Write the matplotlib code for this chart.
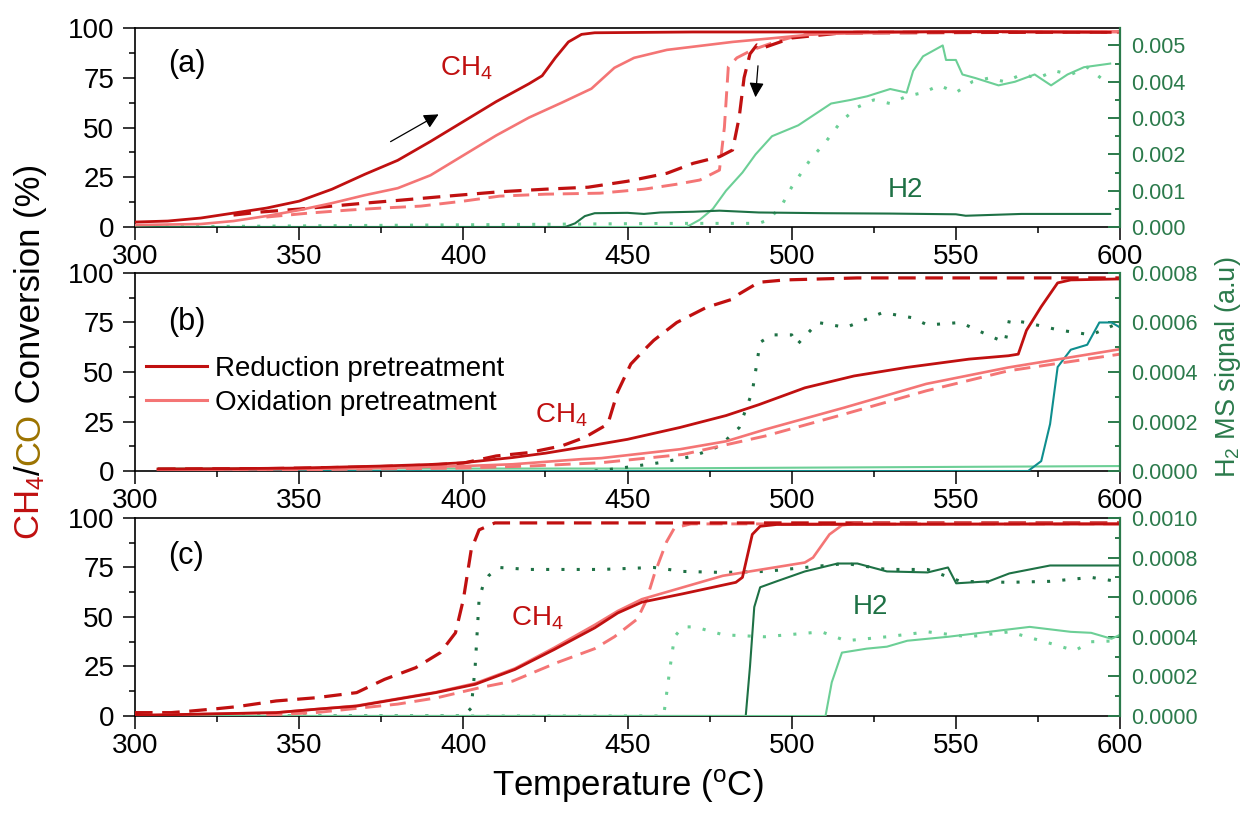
import matplotlib
matplotlib.use('Agg')
import matplotlib.pyplot as plt
from matplotlib.lines import Line2D
from matplotlib.ticker import MultipleLocator, FormatStrFormatter

plt.rcParams['font.family'] = ['Liberation Sans', 'DejaVu Sans']
plt.rcParams['mathtext.default'] = 'regular'

RED = '#c01010'
PINK = '#f47575'
DKGREEN = '#1e7145'
LTGREEN = '#6ccf96'
TEAL = '#0e8e8e'
AXGREEN = '#2b7a4b'
OLIVE = '#9c7300'

# ---- panel (a) ----
a_red_heat_T = [300, 310, 320, 330, 340, 350, 360, 370, 380, 390, 400, 410, 420, 424, 428, 432, 436, 440, 470, 520, 560, 597]
a_red_heat_V = [2.5, 3, 4.5, 7, 9.5, 13, 19, 26.5, 33.5, 43, 53, 63, 72, 76, 85, 93, 96.8, 97.6, 98, 98, 98.2, 97.8]
a_ox_heat_T = [300, 320, 330, 340, 350, 360, 370, 380, 390, 400, 410, 420, 430, 439, 442, 446, 452, 462, 482, 508, 540, 600]
a_ox_heat_V = [1, 1.5, 3, 5.5, 8.5, 12, 16, 19.5, 26, 36, 46, 55, 62.5, 69.5, 74, 80, 85, 89, 93, 97, 98, 98.3]
a_red_cool_T = [330, 338, 350, 360, 370, 381, 395, 411, 425, 438, 450, 462, 470, 478, 482, 484, 485.5, 487.3, 489.4, 491.3, 500, 515, 600]
a_red_cool_V = [6, 7.5, 9, 10.5, 12, 13.5, 15.5, 17.7, 19, 20, 23, 27, 32, 35.3, 38.7, 55, 75, 87, 91.5, 90, 95, 97.5, 98]
a_ox_cool_T = [340, 353, 365, 375, 387, 400, 411, 425, 441.6, 455, 465, 472, 478, 479.5, 480.7, 483.3, 488, 495, 502.6, 520, 600]
a_ox_cool_V = [5, 7, 8.5, 9.5, 10.5, 13, 15.5, 16.5, 17, 19, 21.5, 23.6, 28.6, 50, 80.5, 85, 89, 93, 96.5, 98, 98]
a_h2_red_T = [300, 431, 434, 437, 440, 450, 455, 460, 470, 478, 490, 510, 530, 550, 553, 570, 597]
a_h2_red_V = [0, 0, 0.0001, 0.0003, 0.00038, 0.00039, 0.00036, 0.0004, 0.00042, 0.00045, 0.0004, 0.00038, 0.00037, 0.00035, 0.00031, 0.00036, 0.00036]
a_h2_ox_T = [300, 468, 472, 476, 480, 485, 489, 494, 502, 507, 512, 518, 523, 530, 535, 537, 540, 546, 547, 550, 552, 556,
             563, 568, 574, 579, 584, 589, 597]
a_h2_ox_V = [0, 0, 0.0002, 0.0005, 0.001, 0.0015, 0.002, 0.0025, 0.0028, 0.0031, 0.0034, 0.0035, 0.0036, 0.0038, 0.0037,
             0.0043, 0.0047, 0.005, 0.0046, 0.0046, 0.0042, 0.0041, 0.0039, 0.004, 0.0042, 0.0039, 0.0042, 0.0044, 0.0045]
a_h2_cool_T = [300, 465, 490, 493, 497, 500, 503, 506, 510, 515, 520, 525, 530, 535, 540, 545, 550, 555, 560, 565, 570,
               575, 580, 585, 590, 597]
a_h2_cool_V = [0, 0.0001, 0.0001, 0.0002, 0.0006, 0.0011, 0.0015, 0.0019, 0.0023, 0.0029, 0.0033, 0.0035, 0.0034, 0.0036,
               0.0037, 0.0039, 0.0037, 0.004, 0.0041, 0.004, 0.0042, 0.0041, 0.0043, 0.0042, 0.0044, 0.0039]

# ---- panel (b) ----
b_red_heat_T = [307, 330, 350, 375, 390, 400, 415, 425, 436, 450, 466, 480, 490, 504, 519, 535, 554, 566, 569, 571.5, 576,
                581, 585, 600]
b_red_heat_V = [1, 1.2, 1.5, 2.5, 3.3, 4.2, 6.8, 9, 12, 16, 22, 28, 33.5, 42, 48, 52.3, 56.5, 58.2, 59, 71, 83, 95, 96.5, 97]
b_ox_heat_T = [307, 350, 375, 400, 415, 436, 442, 466, 480, 492, 516, 541, 566, 600]
b_ox_heat_V = [0.5, 1, 1.5, 2.5, 3.4, 6, 6.5, 11, 15, 21, 32, 44, 52.3, 61.5]
b_red_cool_T = [307, 340, 370, 390, 400, 410, 420, 430, 437, 444, 447, 451, 456, 458, 465, 474, 482, 484, 490, 498, 520, 560, 600]
b_red_cool_V = [1, 1.2, 2, 3, 4, 7.6, 9.3, 12.7, 17, 23.7, 40, 54, 62.7, 66, 75, 82.6, 86.8, 89.4, 95.3, 96.5, 97.5, 97.5, 97.5]
b_ox_cool_T = [307, 350, 400, 420, 442, 467, 492, 516, 541, 566, 600]
b_ox_cool_V = [0.3, 0.6, 1.5, 2.5, 4.2, 8.4, 17.7, 28.7, 40.5, 50.6, 59]
b_h2_red_T = [307, 572, 576, 578.7, 581, 585, 590, 593.7, 597.4, 600]
b_h2_red_V = [0, 0, 0.00004, 0.00019, 0.00042, 0.00049, 0.00051, 0.0006, 0.0006, 0.00058]
b_h2_ox_T = [307, 450, 600]
b_h2_ox_V = [0.00001, 0.00001, 0.00002]
b_h2_cool_T = [440, 447, 460, 470, 478, 484, 488, 490.4, 494, 500, 501.6, 508, 516.5, 527.7, 536.4, 541.4, 551.4, 561.3,
               565, 566.3, 571.3, 581.2, 591.2, 600]
b_h2_cool_V = [0, 0.00001, 0.000034, 0.00006, 0.0001, 0.000175, 0.00032, 0.00052, 0.00055, 0.00055, 0.00051, 0.0006,
               0.00058, 0.00064, 0.00062, 0.00059, 0.0006, 0.00054, 0.00052, 0.00061, 0.0006, 0.00057, 0.00055, 0.0006]

# ---- panel (c) ----
c_red_heat_T = [300, 343, 355, 367.5, 379.5, 391.6, 403.6, 415.7, 427.7, 440, 447, 454.4, 466.8, 483, 485, 488, 490.4, 495.4, 600]
c_red_heat_V = [0.3, 1.7, 3.4, 5, 8.4, 11.8, 16, 23.5, 33.6, 44.5, 52, 57.5, 61.7, 67.5, 70, 91.7, 95.8, 96.7, 97]
c_ox_heat_T = [300, 343, 355, 367.5, 379.5, 391.6, 403.6, 415.7, 427.7, 440, 447, 454.4, 479, 504, 506.5, 511.5, 515.3, 519, 600]
c_ox_heat_V = [0.3, 1.7, 3.4, 5.2, 8.6, 12, 16.5, 24, 34.5, 46, 53, 59, 70.8, 77.5, 80, 91.7, 96.3, 97, 97]
c_red_cool_T = [300, 311, 317, 325, 331, 343, 355, 367.5, 376, 385.5, 393, 397.6, 400, 402.4, 404.8, 409.6, 450, 600]
c_red_cool_V = [1.7, 1.7, 2.5, 3.7, 4.7, 7.6, 9.2, 11.8, 18.5, 24.4, 32, 42, 58.8, 84, 94, 97.5, 97.5, 97.5]
c_ox_cool_T = [340, 355, 380, 392, 405, 415, 428.6, 440, 446, 453, 455.7, 458.2, 461.9, 464.3, 469.3, 600]
c_ox_cool_V = [0.5, 1.7, 6, 9.2, 14.3, 17.6, 27, 34, 40, 49, 58.3, 71.7, 88, 95, 97, 97]
c_h2_red_heat_T = [300, 486, 487.3, 488.6, 490.4, 495.4, 504, 514, 520, 529, 541.4, 547.6, 550.1, 560, 566.3, 578.7, 591.2, 600]
c_h2_red_heat_V = [0, 0, 0.00025, 0.00055, 0.00065, 0.00068, 0.00073, 0.00077, 0.00077, 0.00073, 0.000725, 0.00075,
                   0.00067, 0.00068, 0.00072, 0.00076, 0.00076, 0.00076]
c_h2_red_cool_T = [300, 400, 402.4, 403.6, 404.8, 406, 407.8, 410.8, 420, 442, 458, 467, 479, 492, 504, 516.5, 529, 541.4,
                   551.4, 566.3, 578.7, 591.2, 599]
c_h2_red_cool_V = [0, 0, 0.00004, 0.00025, 0.00059, 0.00066, 0.00071, 0.00075, 0.00074, 0.00074, 0.00075, 0.00073,
                   0.000725, 0.00073, 0.00075, 0.00077, 0.00074, 0.00074, 0.00068, 0.000675, 0.00068, 0.0007, 0.00068]
c_h2_ox_heat_T = [300, 510.3, 512.2, 515.3, 522.8, 529, 535.2, 547.6, 560, 572.5, 585, 591.2, 597.4, 600]
c_h2_ox_heat_V = [0, 0, 0.00017, 0.00032, 0.00034, 0.00035, 0.00038, 0.0004, 0.000425, 0.00045, 0.000425, 0.00042,
                  0.00039, 0.00041]
c_h2_ox_cool_T = [300, 461, 463, 464.3, 466.8, 470.5, 479.2, 491.7, 509.1, 516.5, 529, 541.4, 553.9, 566.3, 578.7, 586.2,
                  591.2, 600]
c_h2_ox_cool_V = [0, 0, 0.00025, 0.0004, 0.00045, 0.00045, 0.00041, 0.0004, 0.000425, 0.00038, 0.0004, 0.000425, 0.0004,
                  0.000425, 0.000367, 0.00033, 0.000375, 0.00038]

x_ticks = [300, 350, 400, 450, 500, 550, 600]
y_ticks = [0, 25, 50, 75, 100]

DASH = (0, (5.5, 3))
DOT = (0, (1, 4))


def setup_panel(rect, ms_top, ms_step, ms_fmt):
    ax = fig.add_axes(rect)
    ax.set_xlim(300, 600)
    ax.set_ylim(0, 100)
    ax.set_xticks(x_ticks)
    ax.set_yticks(y_ticks)
    ax.xaxis.set_minor_locator(MultipleLocator(25))
    ax.yaxis.set_minor_locator(MultipleLocator(12.5))
    ax.tick_params(which='major', direction='out', length=9, width=1.1, labelsize=20, pad=3)
    ax.tick_params(axis='y', which='major', pad=6)
    ax.tick_params(which='minor', direction='out', length=4.5, width=1.1)
    ax.tick_params(top=False, right=False, which='both')
    for s in ax.spines.values():
        s.set_linewidth(1.2)
    ax.spines['right'].set_visible(False)

    ax2 = ax.twinx()
    ax2.set_ylim(0, ms_top)
    ax2.yaxis.set_major_locator(MultipleLocator(ms_step))
    ax2.yaxis.set_minor_locator(MultipleLocator(ms_step / 2))
    ax2.yaxis.set_major_formatter(FormatStrFormatter(ms_fmt))
    ax2.tick_params(which='major', direction='in', length=9, width=1.4, colors=AXGREEN, labelsize=15.5, pad=8)
    ax2.tick_params(which='minor', direction='in', length=3.5, width=1.4, colors=AXGREEN)
    for side in ['left', 'top', 'bottom']:
        ax2.spines[side].set_visible(False)
    ax2.spines['right'].set_color(AXGREEN)
    ax2.spines['right'].set_linewidth(1.6)
    return ax, ax2


def draw_conversion(ax, rh, oh, rc, oc):
    ax.plot(oc[0], oc[1], color=PINK, lw=2.1, ls=DASH)
    ax.plot(rc[0], rc[1], color=RED, lw=2.3, ls=DASH)
    ax.plot(oh[0], oh[1], color=PINK, lw=1.9)
    ax.plot(rh[0], rh[1], color=RED, lw=2.0)


fig = plt.figure(figsize=(12.42, 8.21), dpi=100)

# panel (a)
ax_a, ms_a = setup_panel([0.1087, 0.7235, 0.7931, 0.2424], 0.00548, 0.001, '%.3f')
ms_a.plot(a_h2_cool_T, a_h2_cool_V, color=LTGREEN, lw=2.2, ls=DOT)
ms_a.plot(a_h2_ox_T, a_h2_ox_V, color=LTGREEN, lw=1.5)
ms_a.plot(a_h2_red_T, a_h2_red_V, color=DKGREEN, lw=1.5)
draw_conversion(ms_a, (a_red_heat_T, [v * 0.00548 / 100 for v in a_red_heat_V]),
                (a_ox_heat_T, [v * 0.00548 / 100 for v in a_ox_heat_V]),
                (a_red_cool_T, [v * 0.00548 / 100 for v in a_red_cool_V]),
                (a_ox_cool_T, [v * 0.00548 / 100 for v in a_ox_cool_V]))
ax_a.text(310, 82, '(a)', fontsize=22, va='center')
ax_a.text(401, 80, 'CH$_4$', fontsize=20, color=RED, ha='center', va='center')
ax_a.text(534.5, 18.6, 'H2', fontsize=20, color=DKGREEN, ha='center', va='center')
ax_a.annotate('', xy=(393.2, 57.3), xytext=(377.1, 42.2),
              arrowprops=dict(arrowstyle='-|>', color='k', lw=0.9, mutation_scale=22))
ax_a.annotate('', xy=(488.9, 63.8), xytext=(489.8, 82.4),
              arrowprops=dict(arrowstyle='-|>', color='k', lw=0.9, mutation_scale=22))

# panel (b)
ax_b, ms_b = setup_panel([0.1087, 0.4263, 0.7931, 0.2412], 0.0008, 0.0002, '%.4f')
ms_b.plot(b_h2_ox_T, b_h2_ox_V, color=LTGREEN, lw=1.5)
ms_b.plot(b_h2_cool_T, b_h2_cool_V, color=DKGREEN, lw=2.2, ls=DOT)
ms_b.plot(b_h2_red_T, b_h2_red_V, color=TEAL, lw=1.5)
draw_conversion(ms_b, (b_red_heat_T, [v * 0.0008 / 100 for v in b_red_heat_V]),
                (b_ox_heat_T, [v * 0.0008 / 100 for v in b_ox_heat_V]),
                (b_red_cool_T, [v * 0.0008 / 100 for v in b_red_cool_V]),
                (b_ox_cool_T, [v * 0.0008 / 100 for v in b_ox_cool_V]))
ax_b.text(310, 75, '(b)', fontsize=22, va='center')
ax_b.text(430, 28, 'CH$_4$', fontsize=20, color=RED, ha='center', va='center')
handles = [Line2D([], [], color=RED, lw=2.2), Line2D([], [], color=PINK, lw=2.2)]
leg = ms_b.legend(handles, ['Reduction pretreatment', 'Oxidation pretreatment'], loc='center left',
                  bbox_to_anchor=(0.011, 0.43), frameon=False, fontsize=20, handlelength=2.2,
                  handletextpad=0.3, labelspacing=0.3, borderpad=0, borderaxespad=0)

# panel (c)
ax_c, ms_c = setup_panel([0.1087, 0.1279, 0.7931, 0.2412], 0.001, 0.0002, '%.4f')
ms_c.plot(c_h2_red_cool_T, c_h2_red_cool_V, color=DKGREEN, lw=2.2, ls=DOT)
ms_c.plot(c_h2_ox_cool_T, c_h2_ox_cool_V, color=LTGREEN, lw=2.2, ls=DOT)
ms_c.plot(c_h2_red_heat_T, c_h2_red_heat_V, color=DKGREEN, lw=1.5)
ms_c.plot(c_h2_ox_heat_T, c_h2_ox_heat_V, color=LTGREEN, lw=1.5)
draw_conversion(ms_c, (c_red_heat_T, [v * 0.001 / 100 for v in c_red_heat_V]),
                (c_ox_heat_T, [v * 0.001 / 100 for v in c_ox_heat_V]),
                (c_red_cool_T, [v * 0.001 / 100 for v in c_red_cool_V]),
                (c_ox_cool_T, [v * 0.001 / 100 for v in c_ox_cool_V]))
ax_c.text(310, 81, '(c)', fontsize=22, va='center')
ax_c.text(422.4, 49.6, 'CH$_4$', fontsize=20, color=RED, ha='center', va='center')
ax_c.text(524, 55, 'H2', fontsize=20, color=DKGREEN, ha='center', va='center')
ax_c.set_xlabel('Temperature ($^o$C)', fontsize=25, labelpad=6)

# left label in several colours, stacked upward along one baseline
fig.canvas.draw()
renderer = fig.canvas.get_renderer()
y = 1 - 540 / 821
for piece, col in [('CH$_4$', RED), ('/', 'black'), ('CO', OLIVE), (' Conversion (%)', 'black')]:
    t = fig.text(0.032, y, piece, color=col, fontsize=25, rotation=90, rotation_mode='anchor',
                 ha='left', va='baseline')
    bb = t.get_window_extent(renderer)
    y += bb.height / fig.bbox.height

fig.text(1228 / 1242, 1 - 367 / 821, 'H$_2$ MS signal (a.u)', color=AXGREEN, fontsize=19.5,
         rotation=90, ha='center', va='center')

fig.savefig('out.png', dpi=100)
